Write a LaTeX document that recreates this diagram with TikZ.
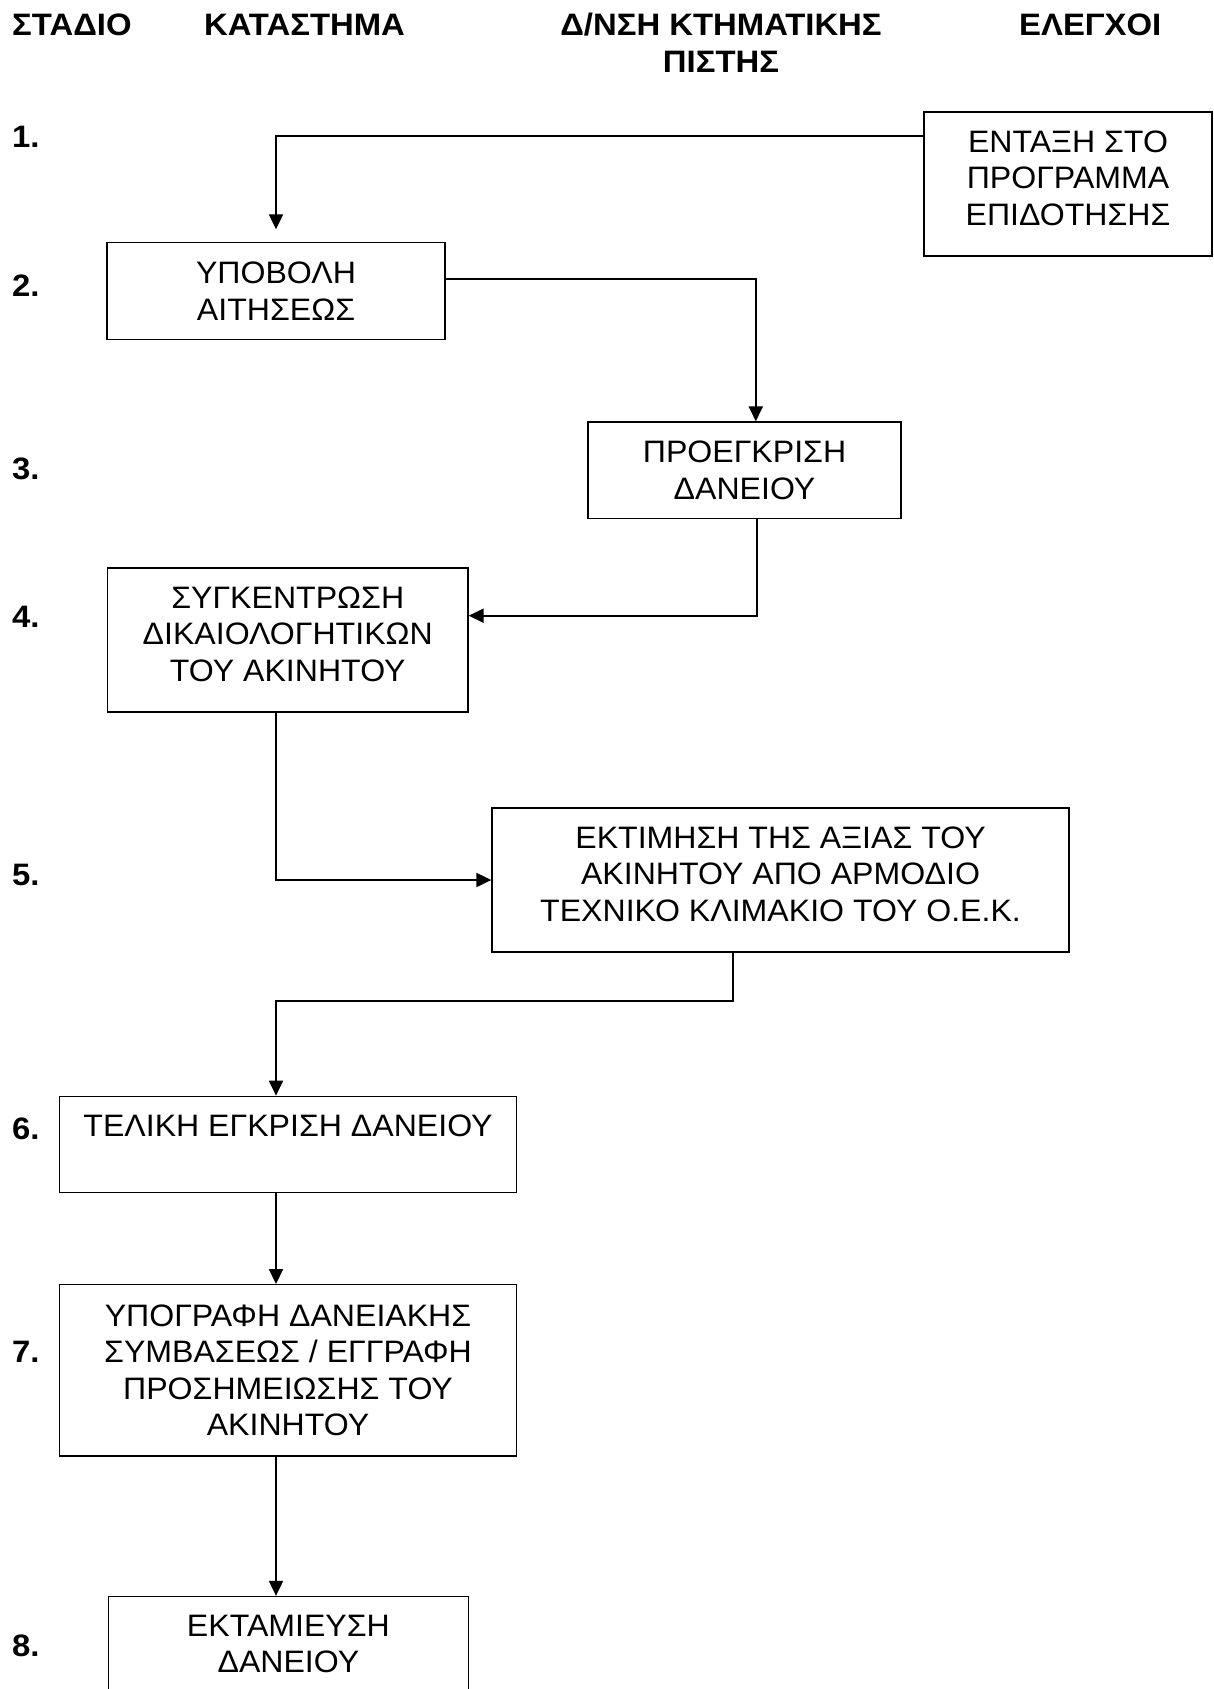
\documentclass[tikz,border=0pt]{standalone}
\usepackage{fontspec}
\setmainfont{Liberation Sans}[FakeStretch=1.035, BoldFeatures={FakeStretch=1.06}]
\usetikzlibrary{arrows.meta}
\begin{document}
\begin{tikzpicture}[x=1pt,y=-1pt,
  box/.style={draw, line width=1.3pt, rectangle, inner sep=0pt, align=center,
    font=\fontsize{31pt}{36.5pt}\selectfont},
  hdr/.style={font=\fontsize{31pt}{36.5pt}\selectfont\bfseries, inner sep=0pt},
  num/.style={font=\fontsize{31pt}{36.5pt}\selectfont\bfseries, inner sep=0pt, anchor=base west},
  conn/.style={line width=2pt, -{Triangle[length=15pt,width=14pt]}}]
\useasboundingbox (0,0) rectangle (1213,1689);

% headers
\node[hdr, anchor=base west] (h1) at (12,35.5) {ΣΤΑΔΙΟ};
\node[hdr, anchor=base west] (h2) at (204,35.5) {ΚΑΤΑΣΤΗΜΑ};
\node[hdr, anchor=north, align=center] (h3) at (721,13) {Δ/ΝΣΗ ΚΤΗΜΑΤΙΚΗΣ\\ΠΙΣΤΗΣ};
\node[hdr, anchor=base west] (h4) at (1019,35.5) {ΕΛΕΓΧΟΙ};

% stage numbers
\node[num] (n1) at (12,147) {1.};
\node[num] (n2) at (12,296.6) {2.};
\node[num] (n3) at (12,479) {3.};
\node[num] (n4) at (12,627.1) {4.};
\node[num] (n5) at (12,885.1) {5.};
\node[num] (n6) at (12,1139.6) {6.};
\node[num] (n7) at (12,1362.9) {7.};
\node[num] (n8) at (12,1656) {8.};

% boxes
\node[box, minimum width=288pt, minimum height=144pt] (b1) at (1068,184)
  {ΕΝΤΑΞΗ ΣΤΟ\\ΠΡΟΓΡΑΜΜΑ\\ΕΠΙΔΟΤΗΣΗΣ\\[-24.5pt]\mbox{}};
\node[box, minimum width=338pt, minimum height=96.6pt] (b2) at (276,291)
  {ΥΠΟΒΟΛΗ\\ΑΙΤΗΣΕΩΣ};
\node[box, minimum width=313pt, minimum height=96.6pt] (b3) at (744.5,470.3)
  {ΠΡΟΕΓΚΡΙΣΗ\\ΔΑΝΕΙΟΥ};
\node[box, minimum width=360.5pt, minimum height=144pt] (b4) at (287.75,640)
  {ΣΥΓΚΕΝΤΡΩΣΗ\\ΔΙΚΑΙΟΛΟΓΗΤΙΚΩΝ\\ΤΟΥ ΑΚΙΝΗΤΟΥ\\[-24.5pt]\mbox{}};
\node[box, minimum width=577pt, minimum height=144pt] (b5) at (780.5,880)
  {ΕΚΤΙΜΗΣΗ ΤΗΣ ΑΞΙΑΣ ΤΟΥ\\ΑΚΙΝΗΤΟΥ ΑΠΟ ΑΡΜΟΔΙΟ\\ΤΕΧΝΙΚΟ ΚΛΙΜΑΚΙΟ ΤΟΥ Ο.Ε.Κ.\\[-24.5pt]\mbox{}};
\node[box, minimum width=457.3pt, minimum height=96pt] (b6) at (288,1144.3)
  {ΤΕΛΙΚΗ ΕΓΚΡΙΣΗ ΔΑΝΕΙΟΥ\\\mbox{}};
\node[box, minimum width=457.3pt, minimum height=171.3pt] (b7) at (288,1370.3)
  {ΥΠΟΓΡΑΦΗ ΔΑΝΕΙΑΚΗΣ\\ΣΥΜΒΑΣΕΩΣ / ΕΓΓΡΑΦΗ\\ΠΡΟΣΗΜΕΙΩΣΗΣ ΤΟΥ\\ΑΚΙΝΗΤΟΥ};
\node[box, minimum width=360pt, minimum height=95pt] (b8) at (288.4,1644)
  {ΕΚΤΑΜΙΕΥΣΗ\\ΔΑΝΕΙΟΥ};

% connectors
\draw[conn] ([yshift=48.3pt]b1.west) -| ([yshift=12.7pt]b2.north);
\draw[conn] ([yshift=11.7pt]b2.east) -| ([xshift=11.3pt]b3.north);
\draw[conn] ([xshift=12pt]b3.south) |- ([yshift=24.3pt]b4.east);
\draw[conn] ([xshift=-11.75pt]b4.south) |- (b5.west);
\draw[conn] ([xshift=-47.9pt]b5.south) -- ++(0,48) -| ([xshift=-12pt]b6.north);
\draw[conn] ([xshift=-12pt]b6.south) -- ([xshift=-12pt]b7.north);
\draw[conn] ([xshift=-12pt]b7.south) -- ([xshift=-12.4pt]b8.north);
\end{tikzpicture}
\end{document}
